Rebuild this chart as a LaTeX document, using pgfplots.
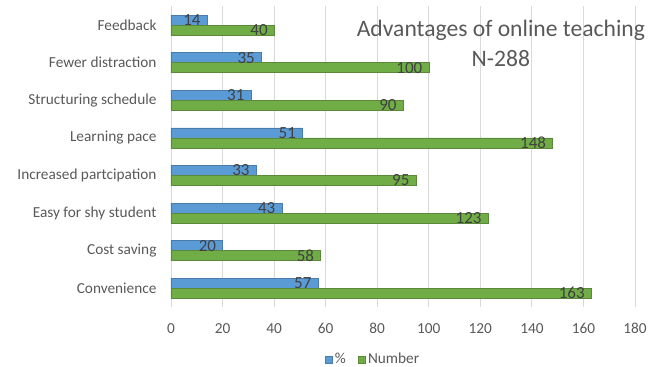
\documentclass[border=0pt]{standalone}
\usepackage{fontspec}
\setmainfont{Carlito}
\usepackage{pgfplots}
\pgfplotsset{compat=1.18}
\definecolor{cblue}{HTML}{5B9BD5}
\definecolor{cgreen}{HTML}{70AD47}
\definecolor{lab}{HTML}{595959}
\definecolor{val}{HTML}{404040}
\definecolor{gridc}{HTML}{D9D9D9}
\begin{document}
\begin{tikzpicture}
\useasboundingbox (-171pt,-60pt) rectangle (478pt,307pt);
\begin{axis}[
  at={(0,0)}, anchor=south west,
  scale only axis, clip=false,
  width=464pt, height=300.8pt,
  xbar, bar width=10pt,
  xmin=0, xmax=180,
  ymin=-0.5, ymax=7.5,
  xtick={0,20,...,180},
  ytick={0,1,2,3,4,5,6,7},
  yticklabels={Convenience,Cost saving,Easy for shy student,Increased partcipation,Learning pace,Structuring schedule,Fewer distraction,Feedback},
  axis line style={draw=none},
  major tick length=0pt,
  xmajorgrids, grid style={gridc, line width=0.8pt},
  /pgf/number format/assume math mode=true,
  tick label style={font=\fontsize{15.3}{17}\selectfont, text=lab},
  xticklabel style={yshift=-13pt},
  yticklabel style={xshift=-11pt},
  nodes near coords,
  every node near coord/.append style={font=\fontsize{17}{19}\selectfont, text=val, anchor=east, xshift=-3pt},
  legend columns=2,
  legend style={at={(0.435,-0.1735)}, anchor=center, draw=none, font=\fontsize{15.3}{17}\selectfont, text=lab,
    /tikz/every odd column/.append style={column sep=1pt},
    /tikz/every even column/.append style={column sep=10pt}},
  legend image code/.code={\fill[#1] (0pt,-3.5pt) rectangle (7pt,3.5pt);},
]
\addplot[fill=cblue, draw=cblue!80!black, line width=0.3pt, bar shift=5pt] coordinates {(57,0) (20,1) (43,2) (33,3) (51,4) (31,5) (35,6) (14,7)};
\addplot[fill=cgreen, draw=cgreen!80!black, line width=0.3pt, bar shift=-5pt] coordinates {(163,0) (58,1) (123,2) (95,3) (148,4) (90,5) (100,6) (40,7)};
\legend{\%,Number}
\node[align=center, font=\fontsize{23.6}{30}\selectfont, text=lab] at (rel axis cs:0.711,0.877) {Advantages of online teaching\\N-288};
\end{axis}
\end{tikzpicture}
\end{document}
